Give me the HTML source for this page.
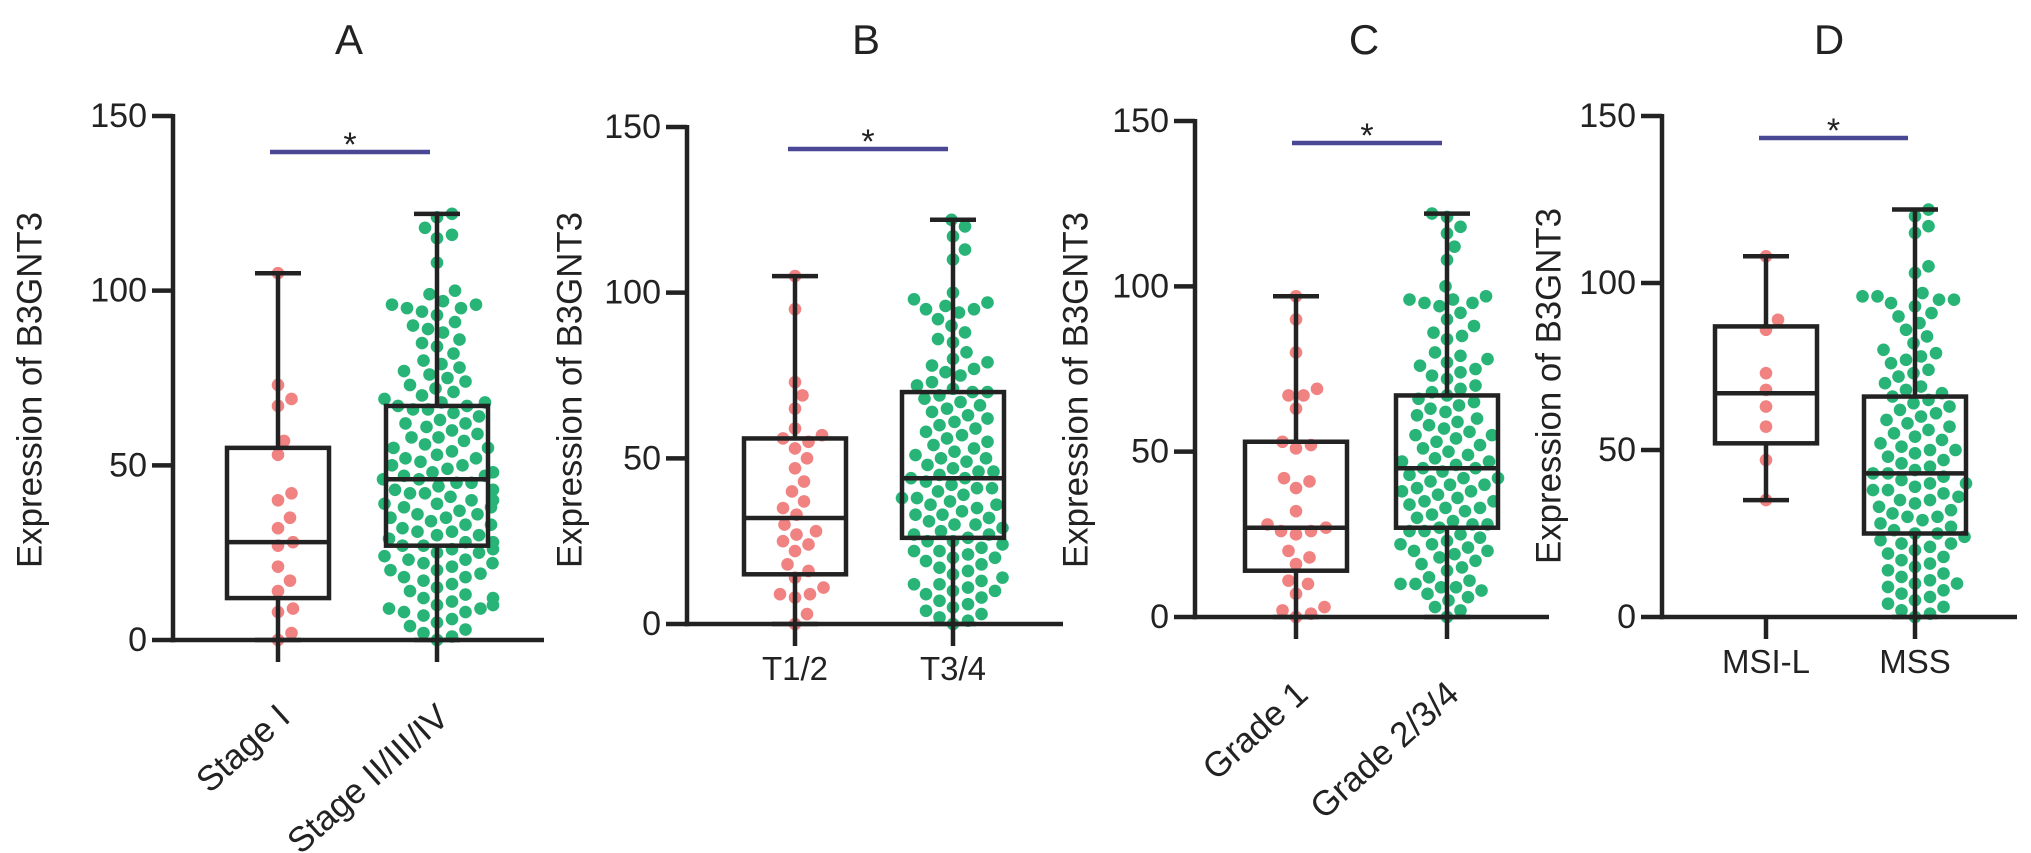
<!DOCTYPE html>
<html><head><meta charset="utf-8"><style>
html,body{margin:0;padding:0;background:#fff;}
svg{display:block;font-family:"Liberation Sans",Arial,sans-serif;}
</style></head><body>
<svg id="chart" width="2031" height="853" viewBox="0 0 2031 853" xmlns="http://www.w3.org/2000/svg"></svg>
<script>
const yTicks=[0,50,100,150];
const panelTitles=["A","B","C","D"];
const categoriesA=["Stage I","Stage II/III/IV"];
const categoriesB=["T1/2","T3/4"];
const categoriesC=["Grade 1","Grade 2/3/4"];
const categoriesD=["MSI-L","MSS"];
// box stats: [whiskerLow, q1, median, q3, whiskerHigh]
const boxA1=[0,12,28,55,105], boxA2=[0,27,46,67,122];
const boxB1=[0,15,32,56,105], boxB2=[0,26,44,70,122];
const boxC1=[0,14,27,53,97],  boxC2=[0,27,45,67,122];
const boxD1=[35,52,67,87,108], boxD2=[0,25,43,66,122];
const pointsA1=[105,73,69,67,57,53,42,40,35,32,28,27,21,17,14,9,8,2,0];
const pointsA2=[122,121,118,116,115,108,100,99,97,96,96,95,95,94,93,91,90,89,88,86,85,84,82,80,79,78,77,76,75,74,73,72,71,70,69,68,68,67,67,66,66,65,64,63,62,62,61,60,59,58,58,57,56,55,55,54,53,52,52,51,50,50,49,48,48,47,47,46,46,45,45,44,43,43,42,42,41,40,40,39,39,38,38,37,36,36,35,35,34,33,33,32,31,31,30,30,29,28,28,27,27,26,26,25,25,24,23,23,22,22,21,20,20,19,18,18,17,16,15,14,13,12,12,11,10,10,9,9,8,8,7,6,5,4,3,2,1,0];
const pointsB1=[105,95,73,69,65,59,57,56,55,53,50,47,43,40,37,35,33,30,28,27,25,24,22,18,16,14,11,9,9,8,3,0];
const pointsB2=[122,120,117,113,110,100,98,97,96,95,95,94,92,90,88,86,85,82,80,79,78,77,76,75,73,72,71,70,70,69,68,67,66,65,64,63,62,61,60,59,58,57,56,55,54,53,52,51,50,50,49,48,47,46,46,45,44,44,43,42,41,41,40,39,38,38,37,36,36,35,34,33,33,32,31,30,30,29,28,27,27,26,25,25,24,23,22,22,21,20,20,19,18,17,16,15,14,13,12,12,11,10,10,9,8,7,6,5,4,3,2,1,0];
const pointsC1=[97,90,80,69,67,67,63,53,52,51,42,41,39,32,28,27,26,26,25,20,18,16,11,10,7,3,2,1,0];
const pointsC2=[122,121,118,116,112,108,100,97,96,96,95,95,94,92,90,88,86,85,84,80,79,78,77,76,75,74,73,72,70,69,68,67,66,65,64,63,62,61,60,59,58,57,56,55,55,54,53,52,51,50,49,48,47,47,46,45,45,44,43,42,42,41,40,40,39,38,38,37,36,35,35,34,33,33,32,31,30,29,28,28,27,26,26,25,24,23,22,22,21,20,20,19,18,17,16,15,14,12,11,10,10,9,9,8,7,6,5,3,2,0];
const pointsD1=[108,89,86,73,68,63,57,47,35];
const pointsD2=[122,120,117,115,105,103,97,96,96,95,95,94,93,91,90,88,86,84,82,80,79,78,77,76,74,73,72,70,69,68,67,66,65,64,63,62,61,60,59,58,57,56,55,54,53,52,51,50,50,49,48,47,46,45,44,43,43,42,41,40,40,39,38,38,37,36,35,35,34,33,32,31,30,30,29,28,27,26,25,25,24,23,22,22,21,20,19,18,17,16,15,14,13,12,11,10,10,9,8,7,6,5,4,3,2,1,0];

const NS="http://www.w3.org/2000/svg";
const svg=document.getElementById('chart');
function mk(tag,attrs,parent,text){const e=document.createElementNS(NS,tag);for(const k in attrs)e.setAttribute(k,attrs[k]);if(text!==undefined)e.textContent=text;(parent||svg).appendChild(e);return e;}

const panels=[
 {title:panelTitles[0],tx:349,ax:173,y0:640,y150:116,xEnd:544,gx:[278,437],cats:categoriesA,rot:true,yt:30,ytc:390,sig:[270,430,152],boxes:[boxA1,boxA2],pts:[pointsA1,pointsA2]},
 {title:panelTitles[1],tx:866,ax:687,y0:624,y150:127,xEnd:1063,gx:[795,953],cats:categoriesB,rot:false,yt:570,ytc:390,sig:[788,948,149],boxes:[boxB1,boxB2],pts:[pointsB1,pointsB2]},
 {title:panelTitles[2],tx:1364,ax:1195,y0:617,y150:121,xEnd:1549,gx:[1296,1447],cats:categoriesC,rot:true,yt:1076,ytc:390,sig:[1292,1442,143],boxes:[boxC1,boxC2],pts:[pointsC1,pointsC2]},
 {title:panelTitles[3],tx:1829,ax:1662,y0:617,y150:116,xEnd:2017,gx:[1766,1915],cats:categoriesD,rot:false,yt:1549,ytc:386,sig:[1759,1908,138],boxes:[boxD1,boxD2],pts:[pointsD1,pointsD2]}
];
const colors=["#f08282","#27b476"];
const R=6.3, SEP=15, BW=102, CAP=46, LW=4.5, INK="#222";

panels.forEach((p,pi)=>{
  const g=mk('g',{});
  
  
  const yS=v=>p.y0+(p.y150-p.y0)*v/150;
  const t=mk('text',{x:p.tx,y:54,'font-size':42,'text-anchor':'middle',fill:INK},g,p.title);
  
  
  const yt=mk('text',{x:p.yt,y:p.ytc,'font-size':35,'text-anchor':'middle','dominant-baseline':'central',textLength:356,lengthAdjust:'spacingAndGlyphs',fill:INK,transform:`rotate(-90 ${p.yt} ${p.ytc})`},g,'Expression of B3GNT3');
  
  
  p.pts.forEach((arr,gi)=>{
    const placed=[];
    const sorted=arr.slice().sort((a,b)=>a-b);
    sorted.forEach(v=>{
      const cy=yS(v);
      let best=0;
      for(let k=0;k<200;k++){
        const off=(k%2?1:-1)*Math.ceil(k/2)*1.5;
        if(Math.abs(off)>56){best=(k%2?1:-1)*56;break;}
        if(placed.every(q=>Math.hypot(q[0]-off,q[1]-cy)>=SEP)){best=off;break;}
      }
      placed.push([best,cy]);
      const c=mk('circle',{cx:p.gx[gi]+best,cy:cy,r:R,fill:colors[gi]},g);
      
      
    });
  });
  p.boxes.forEach((b,gi)=>{
    const x=p.gx[gi];
    const bg=mk('g',{stroke:INK,'stroke-width':LW,fill:'none'},g);
    
    
    mk('line',{x1:x,x2:x,y1:yS(b[0]),y2:yS(b[1])},bg);
    mk('line',{x1:x,x2:x,y1:yS(b[3]),y2:yS(b[4])},bg);
    mk('line',{x1:x-CAP/2,x2:x+CAP/2,y1:yS(b[0]),y2:yS(b[0])},bg);
    mk('line',{x1:x-CAP/2,x2:x+CAP/2,y1:yS(b[4]),y2:yS(b[4])},bg);
    mk('rect',{x:x-BW/2,y:yS(b[3]),width:BW,height:yS(b[1])-yS(b[3])},bg);
    mk('line',{x1:x-BW/2,x2:x+BW/2,y1:yS(b[2]),y2:yS(b[2])},bg);
  });
  const ax=mk('g',{stroke:INK,'stroke-width':LW},g);
  
  
  mk('line',{x1:p.ax,x2:p.ax,y1:p.y150-2,y2:p.y0+2.2},ax);
  mk('line',{x1:p.ax-2.2,x2:p.xEnd,y1:p.y0,y2:p.y0},ax);
  yTicks.forEach(v=>{
    mk('line',{x1:p.ax-21,x2:p.ax,y1:yS(v),y2:yS(v)},ax);
    const tl=mk('text',{x:p.ax-26,y:yS(v),'font-size':34,'text-anchor':'end','dominant-baseline':'central',fill:INK,stroke:'none'},g,String(v));
    
    
  });
  p.gx.forEach((x,gi)=>{
    mk('line',{x1:x,x2:x,y1:p.y0,y2:p.y0+22},ax);
    let lab;
    if(p.rot){
      const lx=x+14, ly=p.y0+80;
      lab=mk('text',{x:lx,y:ly,'font-size':35,'text-anchor':'end',fill:INK,transform:`rotate(-42 ${lx} ${ly})`},g,p.cats[gi]);
    } else {
      lab=mk('text',{x:x,y:p.y0+56,'font-size':33,'text-anchor':'middle',fill:INK},g,p.cats[gi]);
    }
    
    
  });
  const sl=mk('line',{x1:p.sig[0],x2:p.sig[1],y1:p.sig[2],y2:p.sig[2],stroke:'#4a4795','stroke-width':4.5},g);
  
  
  const st=mk('text',{x:(p.sig[0]+p.sig[1])/2,y:p.sig[2]+4,'font-size':34,'text-anchor':'middle',fill:INK},g,'*');
  
  
});
</script>
</body></html>
